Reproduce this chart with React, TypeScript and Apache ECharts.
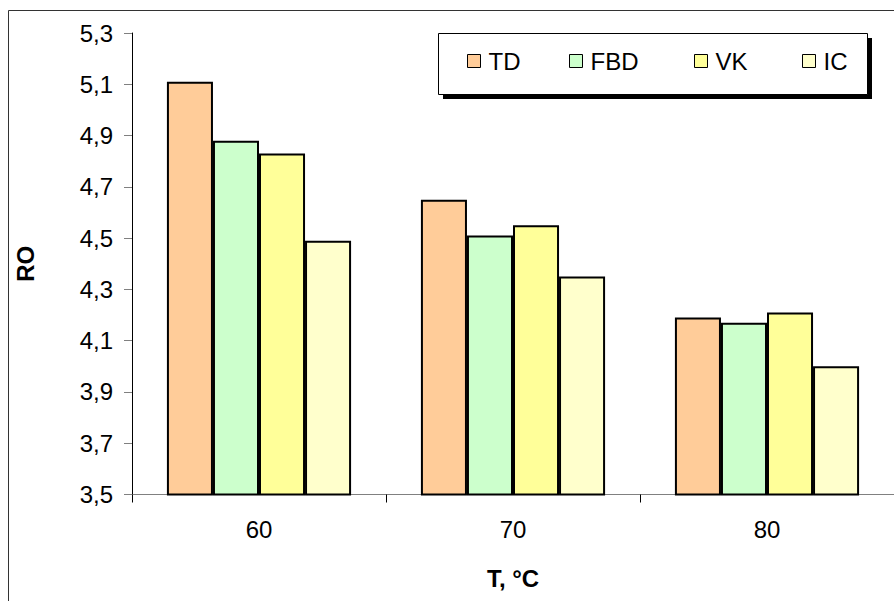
import React, { useEffect, useRef } from "react";
import * as echarts from "echarts";

const categories = ["60", "70", "80"];
const seriesNames = ["TD", "FBD", "VK", "IC"];
const tdValues = [5.11, 4.65, 4.19];
const fbdValues = [4.88, 4.51, 4.17];
const vkValues = [4.83, 4.55, 4.21];
const icValues = [4.49, 4.35, 4.0];
const colors = ["#FFCC99", "#CCFFCC", "#FFFF99", "#FFFFCC"];
const legendLefts = [467, 569, 694, 802];

const FONT = "Arial, 'Liberation Sans', sans-serif";
const FS = 24;

export default function App() {
  const ref = useRef<HTMLDivElement>(null);
  useEffect(() => {
    document.body.style.margin = "0";
    const chart = echarts.init(ref.current!, null, { renderer: "svg" });
    const allValues = [tdValues, fbdValues, vkValues, icValues];
    chart.setOption({
      animation: false,
      backgroundColor: "#ffffff",
      textStyle: { fontFamily: FONT },
      graphic: [
        {
          type: "rect",
          shape: { x: 8.5, y: 10.5, width: 900, height: 600 },
          style: { fill: "none", stroke: "#333", lineWidth: 1 },
          silent: true,
          z: 0,
        },
        {
          type: "rect",
          shape: { x: 443, y: 38, width: 429, height: 61 },
          style: { fill: "#000" },
          z: 10,
        },
        {
          type: "rect",
          shape: { x: 438.5, y: 33.5, width: 429, height: 61 },
          style: { fill: "#fff", stroke: "#000", lineWidth: 1 },
          z: 11,
        },
      ],
      legend: seriesNames.map((n, i) => ({
        data: [n],
        left: legendLefts[i],
        top: 49,
        padding: 0,
        itemWidth: 13,
        itemHeight: 13,
        itemGap: 0,
        icon: "rect",
        z: 20,
        itemStyle: { borderColor: "#000", borderWidth: 1 },
        textStyle: { fontSize: FS, color: "#000", fontFamily: FONT, padding: [0, 0, 0, 3] },
      })),
      grid: { left: 132, top: 33, width: 765, height: 461.5, containLabel: false },
      xAxis: {
        type: "category",
        data: categories,
        name: "T, °C",
        nameLocation: "middle",
        nameGap: 72,
        nameTextStyle: { fontSize: FS, fontWeight: "bold", color: "#000" },
        axisLine: { lineStyle: { color: "#808080", width: 1 } },
        axisTick: { show: true, length: 8, lineStyle: { color: "#000" } },
        axisLabel: { fontSize: FS, color: "#000", margin: 23 },
        splitLine: { show: false },
      },
      yAxis: {
        type: "value",
        min: 3.5,
        max: 5.3,
        interval: 0.2,
        name: "RO",
        nameLocation: "middle",
        nameRotate: 90,
        nameGap: 95,
        nameTextStyle: { fontSize: FS, fontWeight: "bold", color: "#000" },
        axisLine: { show: true, lineStyle: { color: "#000", width: 1 } },
        axisTick: { show: true, length: 8, lineStyle: { color: "#808080" } },
        axisLabel: {
          fontSize: FS,
          color: "#000",
          margin: 19,
          formatter: (v: number) => v.toFixed(1).replace(".", ","),
        },
        splitLine: { show: false },
      },
      series: seriesNames.map((n, i) => ({
        name: n,
        type: "bar",
        data: allValues[i],
        barGap: "0%",
        barCategoryGap: "27.5%",
        itemStyle: { color: colors[i], borderColor: "#000", borderWidth: 2 },
      })),
    });
    return () => chart.dispose();
  }, []);
  return <div ref={ref} style={{ width: 894, height: 601 }} />;
}
